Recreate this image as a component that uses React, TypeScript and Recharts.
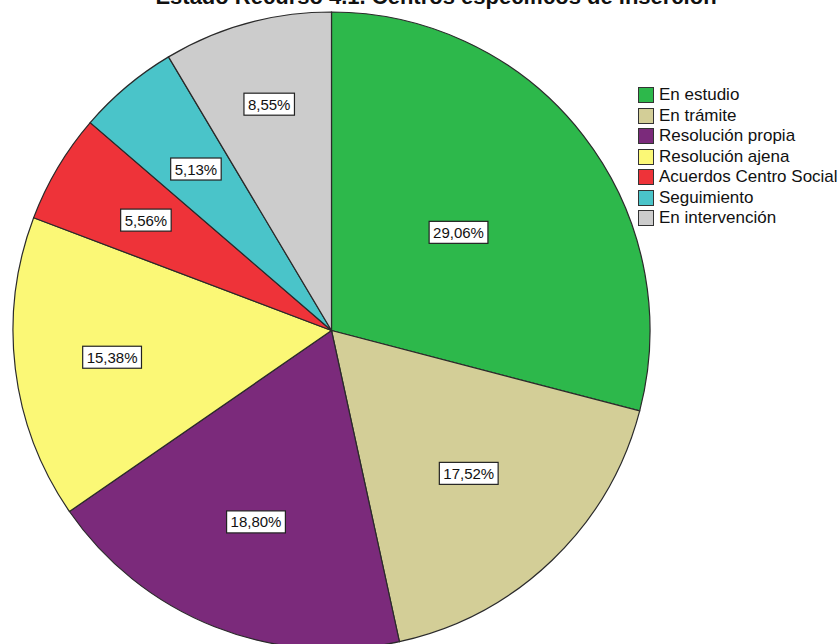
import { PieChart, Pie, Cell, Legend } from "recharts";

const categories = [
  "En estudio",
  "En trámite",
  "Resolución propia",
  "Resolución ajena",
  "Acuerdos Centro Social",
  "Seguimiento",
  "En intervención",
];
const percentages = [29.06, 17.52, 18.8, 15.38, 5.56, 5.13, 8.55];
const colors = [
  "#2db84b",
  "#d3ce97",
  "#7b2a7b",
  "#fbf876",
  "#ee3339",
  "#4ac4c9",
  "#cccccc",
];
const title = "Estado Recurso 4.1. Centros específicos de inserción";

const data = categories.map((name, i) => ({ name, value: percentages[i] }));

// how far out (fraction of radius) each box label sits
const labelDepth = [0.504, 0.622, 0.646, 0.694, 0.678, 0.662, 0.737];
const FONT = "'Liberation Sans', Arial, sans-serif";

const renderLabel = (props: any) => {
  const { cx, cy, midAngle, outerRadius, index, value } = props;
  const rad = Math.PI / 180;
  const r = outerRadius * labelDepth[index];
  const x = cx + r * Math.cos(-midAngle * rad);
  const y = cy + r * Math.sin(-midAngle * rad);
  const text = value.toFixed(2).replace(".", ",") + "%";
  const w = text.length * 8.3 + 9;
  const h = 22;
  return (
    <g>
      <rect
        x={x - w / 2}
        y={y - h / 2}
        width={w}
        height={h}
        fill="#ffffff"
        stroke="#222"
        strokeWidth={1.2}
      />
      <text
        x={x}
        y={y + 5.5}
        textAnchor="middle"
        fontSize={15}
        fontFamily={FONT}
        fill="#111"
      >
        {text}
      </text>
    </g>
  );
};

const renderLegend = () => (
  <div style={{ fontFamily: FONT, fontSize: 17, color: "#111" }}>
    {categories.map((c, i) => (
      <div
        key={c}
        style={{ display: "flex", alignItems: "center", height: 20.5 }}
      >
        <span
          style={{
            display: "inline-block",
            width: 14,
            height: 14,
            background: colors[i],
            border: "1.5px solid #333",
            marginRight: 5,
          }}
        />
        <span style={{ whiteSpace: "nowrap" }}>{c}</span>
      </div>
    ))}
  </div>
);

export default function App() {
  return (
    <div
      style={{
        position: "absolute",
        left: 0,
        top: 0,
        width: 839,
        height: 644,
        overflow: "hidden",
        background: "#fff",
      }}
    >
      <div
        style={{
          position: "absolute",
          left: 436,
          top: -13.6,
          transform: "translateX(-50%)",
          whiteSpace: "nowrap",
          fontFamily: FONT,
          fontSize: 22,
          fontWeight: "bold",
          lineHeight: "22px",
          color: "#111",
        }}
      >
        {title}
      </div>
      <PieChart
        width={839}
        height={644}
        margin={{ top: 0, right: 0, bottom: 0, left: 0 }}
      >
        <Pie
          data={data}
          dataKey="value"
          nameKey="name"
          cx={331.5}
          cy={330.5}
          outerRadius={318.5}
          startAngle={90}
          endAngle={-270}
          stroke="#2a2a2a"
          strokeWidth={1.2}
          label={renderLabel}
          labelLine={false}
          isAnimationActive={false}
        >
          {data.map((d, i) => (
            <Cell key={d.name} fill={colors[i]} />
          ))}
        </Pie>
        <Legend
          layout="vertical"
          content={renderLegend}
          wrapperStyle={{ position: "absolute", left: 638, top: 85, width: 201 }}
        />
      </PieChart>
    </div>
  );
}
